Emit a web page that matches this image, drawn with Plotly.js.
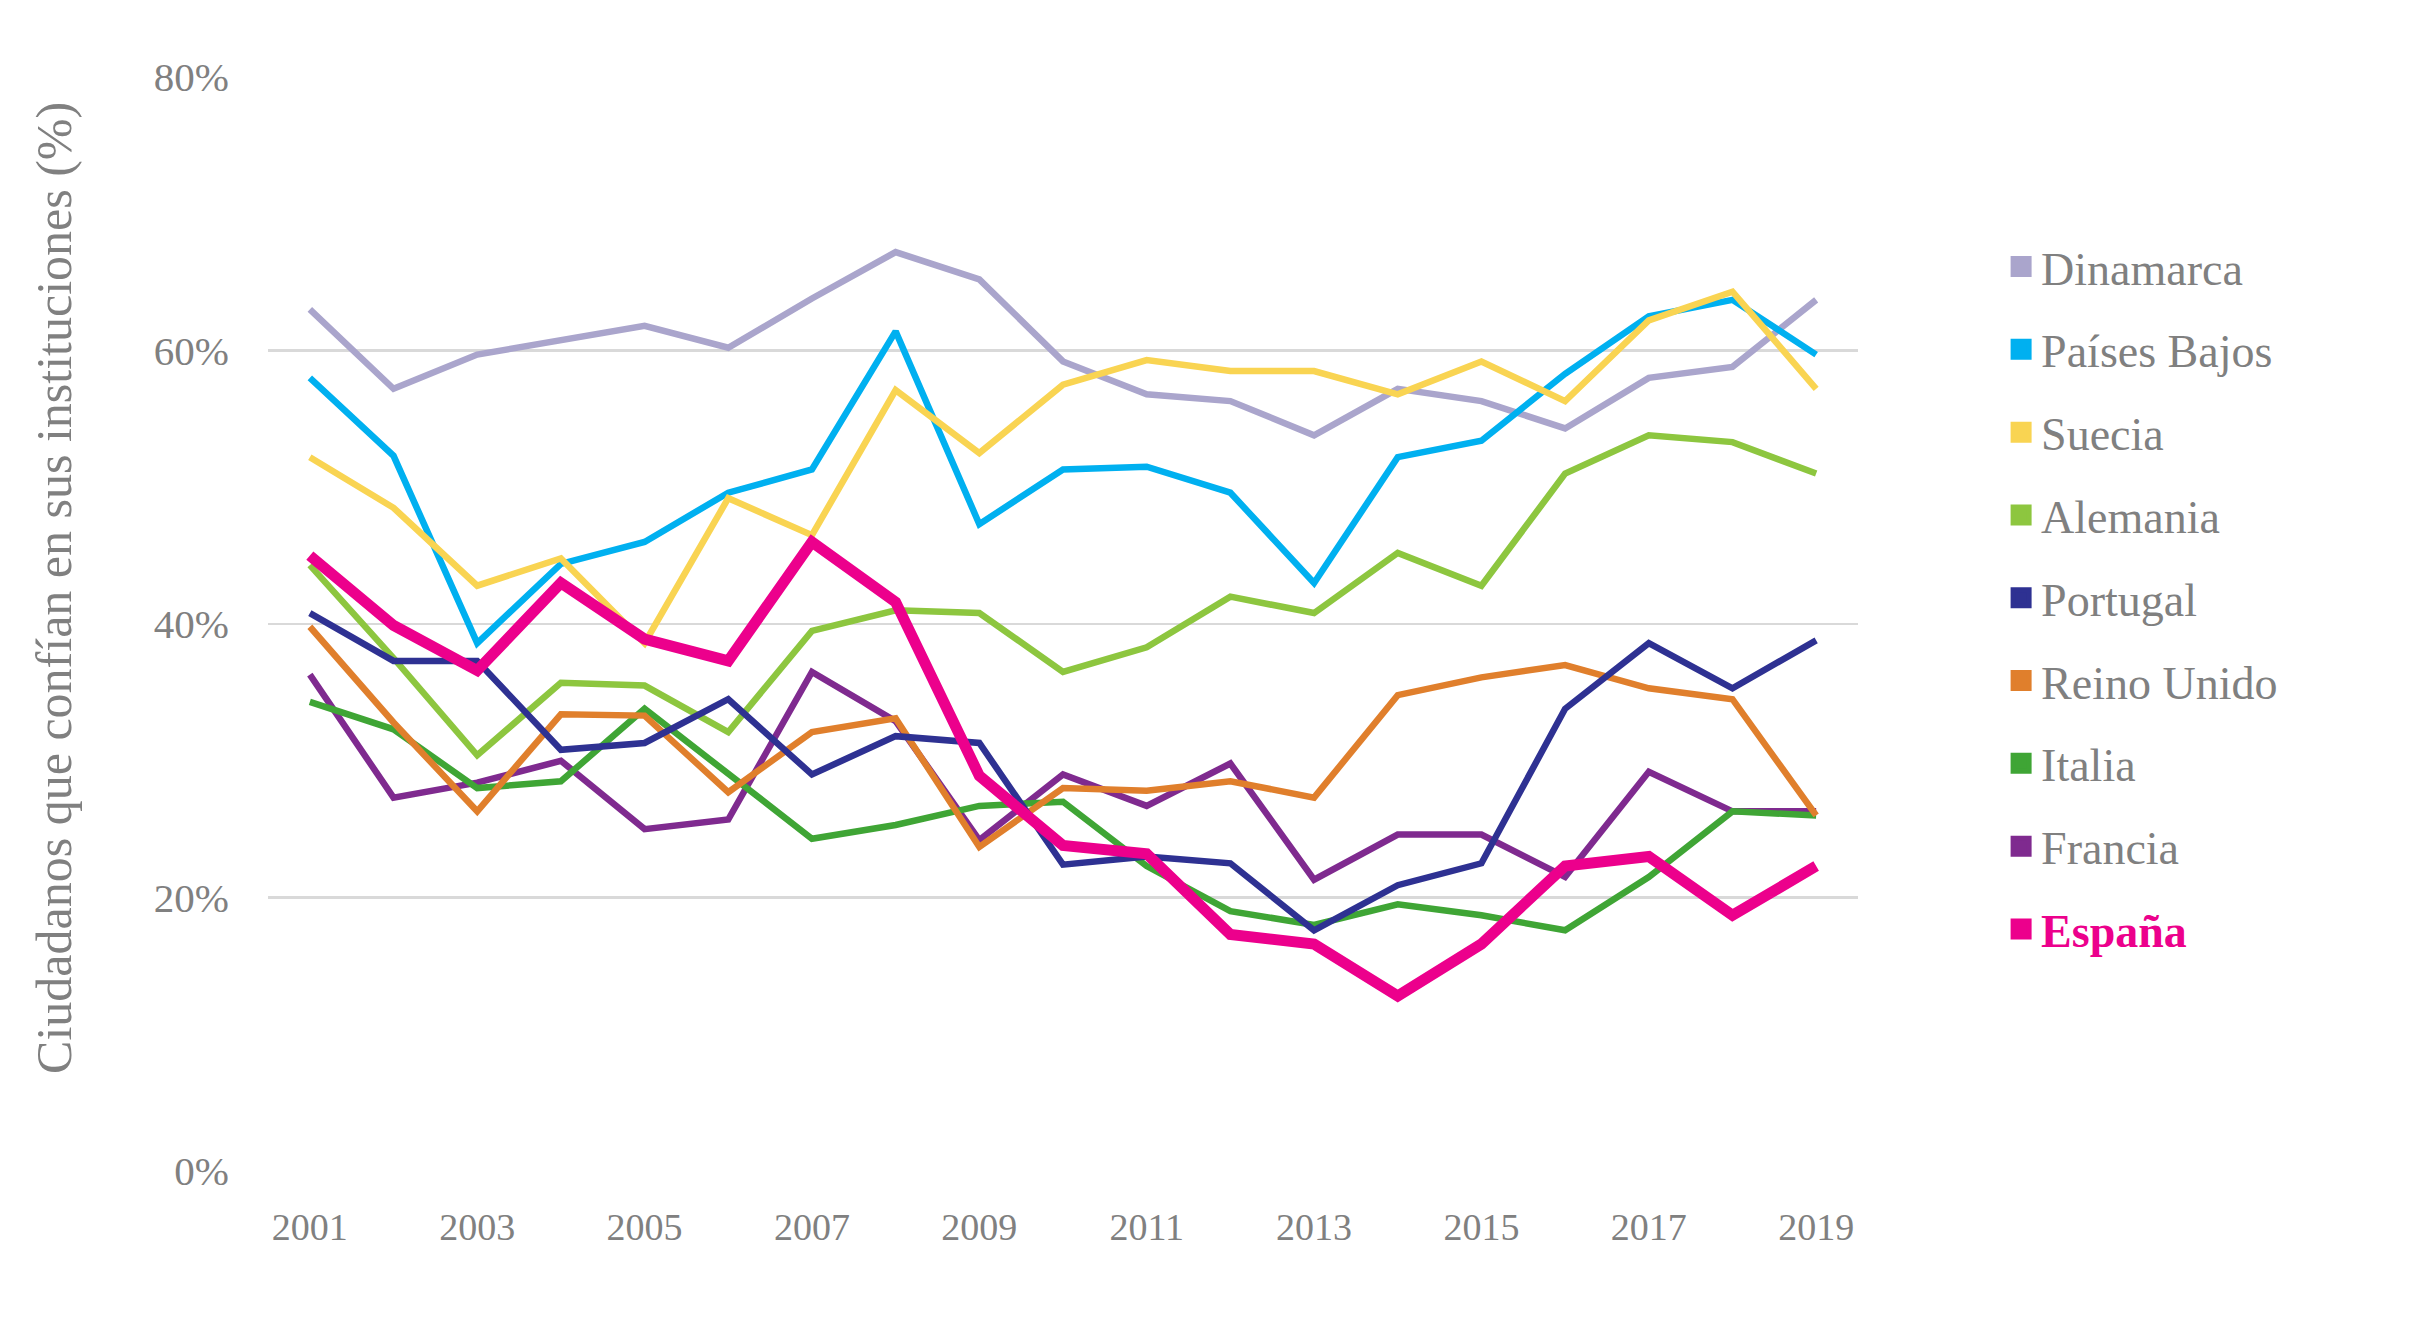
<!DOCTYPE html>
<html>
<head>
<meta charset="utf-8">
<script src="https://cdn.plot.ly/plotly-3.0.1.min.js"></script>
<style>html,body{margin:0;padding:0;background:#fff;} #chart{width:2425px;height:1344px;}</style>
</head>
<body>
<div id="chart"></div>
<script>
const years = [2001,2002,2003,2004,2005,2006,2007,2008,2009,2010,2011,2012,2013,2014,2015,2016,2017,2018,2019];
const xTickYears = [2001,2003,2005,2007,2009,2011,2013,2015,2017,2019];
const yTickValues = [0,20,40,60,80];

const dinamarca   = [63.0,57.2,59.7,60.7,61.8,60.2,63.8,67.2,65.2,59.2,56.8,56.3,53.8,57.2,56.3,54.3,58.0,58.8,63.7];
const paisesBajos = [58.0,52.3,38.6,44.4,46.0,49.6,51.3,61.4,47.3,51.3,51.5,49.6,43.0,52.2,53.4,58.3,62.5,63.7,59.7];
const suecia      = [52.2,48.5,42.8,44.8,38.6,49.2,46.5,57.1,52.5,57.5,59.3,58.5,58.5,56.8,59.2,56.3,62.2,64.3,57.2];
const alemania    = [44.3,37.5,30.4,35.7,35.5,32.1,39.5,41.0,40.8,36.5,38.3,42.0,40.8,45.2,42.8,51.0,53.8,53.3,51.0];
const portugal    = [40.8,37.3,37.3,30.8,31.3,34.5,29.0,31.8,31.3,22.4,23.0,22.5,17.6,20.9,22.5,33.8,38.6,35.3,38.8];
const reinoUnido  = [39.8,32.8,26.3,33.4,33.3,27.7,32.1,33.1,23.7,28.0,27.8,28.5,27.3,34.8,36.1,37.0,35.3,34.5,26.0];
const italia      = [34.3,32.3,28.0,28.5,33.8,29.0,24.3,25.3,26.7,27.0,22.3,19.0,18.0,19.5,18.7,17.6,21.5,26.3,26.0];
const francia     = [36.3,27.3,28.4,30.0,25.0,25.7,36.5,32.9,24.2,29.0,26.7,29.8,21.3,24.6,24.6,21.5,29.2,26.3,26.3];
const espana      = [45.0,39.9,36.6,43.0,38.9,37.3,46.0,41.6,28.9,23.8,23.2,17.3,16.6,12.8,16.6,22.3,23.0,18.7,22.3];

const seriesNames = ["Dinamarca","Países Bajos","Suecia","Alemania","Portugal","Reino Unido","Italia","Francia","España"];
const seriesValues = [dinamarca,paisesBajos,suecia,alemania,portugal,reinoUnido,italia,francia,espana];
const seriesColors = ["#AAA5CC","#00B0F0","#F9D452","#8DC63F","#2E3192","#E07F2C","#3FA535","#7F2A8F","#EC008C"];
const drawOrder = [0,1,2,3,7,6,5,4,8];

const GRAY = "#808080";
const FONT = "Liberation Serif, Times New Roman, serif";

const traces = [];
drawOrder.forEach(i => {
  traces.push({
    type: "scatter", mode: "lines",
    x: years, y: seriesValues[i],
    line: {color: seriesColors[i], width: seriesNames[i] === "España" ? 11 : 6.5},
    showlegend: false, hoverinfo: "skip"
  });
});
seriesNames.forEach((n, i) => {
  const isSpain = n === "España";
  traces.push({
    type: "scatter", mode: "markers",
    x: [null], y: [null],
    name: isSpain ? "<b><span style='color:#EC008C'>España</span></b>" : n,
    legendgroup: "g" + i,
    marker: {symbol: "square", size: 16, color: seriesColors[i], line: {color: seriesColors[i], width: 5}},
    showlegend: true
  });
});

const layout = {
  width: 2425, height: 1344,
  paper_bgcolor: "#ffffff", plot_bgcolor: "#ffffff",
  margin: {l: 268, r: 567, t: 77, b: 173},
  font: {family: FONT, color: GRAY, size: 39},
  showlegend: true,
  legend: {
    x: 1.090, xanchor: "left", y: 0.86, yanchor: "top",
    font: {family: FONT, size: 46, color: GRAY},
    tracegroupgap: 20, itemwidth: 30,
    bgcolor: "rgba(0,0,0,0)"
  },
  xaxis: {
    range: [2000.5, 2019.5],
    tickvals: xTickYears, ticktext: xTickYears.map(String),
    showgrid: false, zeroline: false, showline: false,
    ticks: "", ticklabelstandoff: 30,
    tickfont: {family: FONT, size: 38, color: GRAY}
  },
  yaxis: {
    range: [0, 80],
    tickvals: yTickValues, ticktext: yTickValues.map(v => v + "%"),
    showgrid: true, gridcolor: "#D9D9D9", gridwidth: 2.2,
    zeroline: false, showline: false, ticks: "",
    ticklabelstandoff: 38,
    tickfont: {family: FONT, size: 41, color: GRAY}
  },
  annotations: [{
    text: "Ciudadanos que confían en sus instituciones (%)",
    xref: "paper", yref: "paper", x: -0.1346, y: 0.533,
    xanchor: "center", yanchor: "middle", textangle: -90, showarrow: false,
    font: {family: FONT, size: 50, color: GRAY}
  }]
};

Plotly.newPlot("chart", traces, layout, {displayModeBar: false, staticPlot: true});
</script>
</body>
</html>
